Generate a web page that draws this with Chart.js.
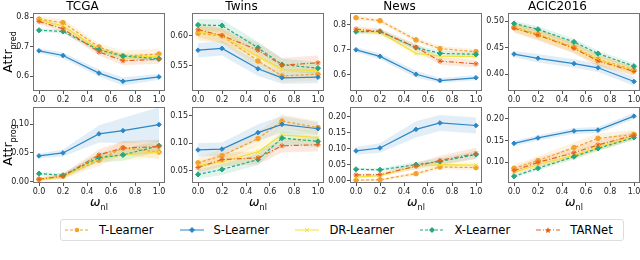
<!DOCTYPE html>
<html>
<head>
<meta charset="utf-8">
<script src="https://cdn.jsdelivr.net/npm/chart.js@4.4.1/dist/chart.umd.min.js"></script>
<style>
  body { margin: 0; width: 640px; height: 260px; overflow: hidden; background: #fff; position: relative; font-family: "DejaVu Sans", sans-serif; }
  canvas.panel { position: absolute; }
  .ylab { position: absolute; transform: translate(-50%, -50%) rotate(-90deg); white-space: nowrap; font-size: 12.5px; color: #000; }
  .ylab sub, .xlab sub { font-size: 8px; }
  .xlab { position: absolute; transform: translate(-50%, -50%); white-space: nowrap; font-size: 12.5px; color: #000; }
  #legend { position: absolute; left: 60px; top: 219px; width: 558px; height: 20px; border: 1px solid #ddd; border-radius: 3px;
            display: flex; align-items: center; padding-left: 4px; box-sizing: content-box; overflow: hidden; }
  .item { display: flex; align-items: center; flex-shrink: 0; white-space: nowrap; margin-right: 26px; font-size: 11.6px; color: #000; }
  .item svg { margin-right: 10px; flex-shrink: 0; }
</style>
</head>
<body>
<div id="legend"></div>
<script>
// x positions of the nonlinearity weight
const xValues = [0.0, 0.2, 0.5, 0.7, 1.0];
const xTickLabels = ['0.0', '0.2', '0.4', '0.6', '0.8', '1.0'];
const methods = ['T-Learner', 'S-Learner', 'DR-Learner', 'X-Learner', 'TARNet'];
const datasetTitles = ['TCGA', 'Twins', 'News', 'ACIC2016'];

// Attr_pred means (rows: T, S, DR, X, TARNet)
const tcgaPred = [
    [0.794, 0.782, 0.699, 0.668, 0.675],
    [0.686, 0.670, 0.610, 0.582, 0.597],
    [0.791, 0.770, 0.691, 0.666, 0.666],
    [0.756, 0.752, 0.689, 0.668, 0.659],
    [0.786, 0.761, 0.682, 0.652, 0.657]
];
const twinsPred = [
    [0.604, 0.600, 0.558, 0.533, 0.536],
    [0.576, 0.579, 0.545, 0.530, 0.531],
    [0.607, 0.600, 0.566, 0.544, 0.542],
    [0.618, 0.617, 0.580, 0.552, 0.546],
    [0.610, 0.6005, 0.576, 0.551, 0.555]
];
const newsPred = [
    [0.828, 0.816, 0.739, 0.704, 0.692],
    [0.699, 0.673, 0.601, 0.576, 0.587],
    [0.776, 0.769, 0.685, 0.674, 0.672],
    [0.772, 0.773, 0.708, 0.685, 0.681],
    [0.782, 0.773, 0.709, 0.654, 0.643]
];
const acicPred = [
    [0.489, 0.476, 0.451, 0.428, 0.408],
    [0.438, 0.430, 0.420, 0.412, 0.386],
    [0.488, 0.475, 0.450, 0.427, 0.406],
    [0.496, 0.485, 0.461, 0.439, 0.415],
    [0.487, 0.474, 0.449, 0.425, 0.405]
];

// Attr_prog means
const tcgaProg = [
    [0.0045, 0.010, 0.0375, 0.059, 0.0517],
    [0.0449, 0.050, 0.083, 0.0886, 0.099],
    [0.005, 0.008, 0.041, 0.0466, 0.052],
    [0.0142, 0.0114, 0.042, 0.0466, 0.0625],
    [0.0045, 0.0097, 0.0466, 0.0585, 0.061]
];
const twinsProg = [
    [0.064, 0.077, 0.108, 0.140, 0.128],
    [0.0875, 0.089, 0.119, 0.134, 0.126],
    [0.059, 0.066, 0.084, 0.115, 0.110],
    [0.043, 0.052, 0.070, 0.109, 0.103],
    [0.0555, 0.070, 0.073, 0.095, 0.097]
];
const newsProg = [
    [0.002, 0.003, 0.022, 0.043, 0.041],
    [0.093, 0.102, 0.160, 0.180, 0.172],
    [0.011, 0.016, 0.046, 0.050, 0.049],
    [0.0357, 0.034, 0.050, 0.060, 0.0816],
    [0.018, 0.019, 0.045, 0.063, 0.085]
];
const acicProg = [
    [0.0865, 0.104, 0.134, 0.155, 0.164],
    [0.1436, 0.156, 0.172, 0.174, 0.206],
    [0.077, 0.095, 0.116, 0.135, 0.159],
    [0.068, 0.0865, 0.113, 0.132, 0.157],
    [0.081, 0.100, 0.122, 0.140, 0.162]
];

// half widths of the shaded bands
const tcgaPredBand = [
    [0.010, 0.012, 0.012, 0.018, 0.018],
    [0.008, 0.010, 0.012, 0.014, 0.010],
    [0.010, 0.010, 0.010, 0.012, 0.012],
    [0.006, 0.006, 0.008, 0.008, 0.008],
    [0.010, 0.012, 0.012, 0.015, 0.015]
];
const twinsPredBand = [
    [0.012, 0.012, 0.012, 0.010, 0.010],
    [0.012, 0.012, 0.012, 0.010, 0.010],
    [0.012, 0.012, 0.012, 0.010, 0.010],
    [0.010, 0.010, 0.010, 0.010, 0.010],
    [0.012, 0.012, 0.012, 0.012, 0.012]
];
const newsPredBand = [
    [0.008, 0.008, 0.010, 0.010, 0.010],
    [0.010, 0.012, 0.014, 0.010, 0.010],
    [0.012, 0.012, 0.012, 0.012, 0.012],
    [0.008, 0.008, 0.010, 0.010, 0.010],
    [0.012, 0.012, 0.015, 0.015, 0.015]
];
const acicPredBand = [
    [0.008, 0.010, 0.010, 0.010, 0.008],
    [0.006, 0.008, 0.008, 0.008, 0.008],
    [0.008, 0.010, 0.010, 0.010, 0.008],
    [0.005, 0.006, 0.006, 0.006, 0.005],
    [0.008, 0.010, 0.010, 0.010, 0.008]
];
const tcgaProgBand = [
    [0.003, 0.004, 0.010, 0.012, 0.012],
    [0.004, 0.006, 0.015, 0.022, 0.030],
    [0.003, 0.004, 0.008, 0.010, 0.010],
    [0.003, 0.004, 0.008, 0.010, 0.010],
    [0.003, 0.004, 0.010, 0.012, 0.012]
];
const twinsProgBand = [
    [0.010, 0.012, 0.012, 0.012, 0.012],
    [0.012, 0.012, 0.015, 0.015, 0.012],
    [0.010, 0.010, 0.012, 0.012, 0.012],
    [0.008, 0.010, 0.010, 0.012, 0.010],
    [0.010, 0.012, 0.012, 0.012, 0.012]
];
const newsProgBand = [
    [0.003, 0.004, 0.006, 0.008, 0.008],
    [0.012, 0.015, 0.025, 0.025, 0.025],
    [0.004, 0.005, 0.008, 0.010, 0.010],
    [0.004, 0.005, 0.008, 0.010, 0.012],
    [0.004, 0.005, 0.010, 0.015, 0.018]
];
const acicProgBand = [
    [0.008, 0.010, 0.012, 0.012, 0.010],
    [0.006, 0.006, 0.007, 0.007, 0.007],
    [0.006, 0.008, 0.010, 0.010, 0.008],
    [0.004, 0.005, 0.006, 0.006, 0.006],
    [0.008, 0.010, 0.012, 0.012, 0.010]
];

// y tick labels and y limits
const tcgaPredTicks = ['0.6', '0.7', '0.8'];
const twinsPredTicks = ['0.55', '0.60'];
const newsPredTicks = ['0.6', '0.7', '0.8'];
const acicPredTicks = ['0.40', '0.45', '0.50'];
const tcgaProgTicks = ['0.00', '0.05', '0.10'];
const twinsProgTicks = ['0.05', '0.10', '0.15'];
const newsProgTicks = ['0.00', '0.05', '0.10', '0.15', '0.20'];
const acicProgTicks = ['0.10', '0.15', '0.20'];
const predLimits = [[0.549, 0.815], [0.508, 0.638], [0.534, 0.847], [0.368, 0.516]];
const progLimits = [[-0.002, 0.1295], [0.0274, 0.1655], [-0.007, 0.2296], [0.0526, 0.227]];

// line styles per method
const styles = [
    { color: '#f2a12e', rgb: '242,161,46', dash: [3, 2], point: 'circle', radius: 2.3 },
    { color: '#2b87c6', rgb: '43,135,198', dash: [], point: 'rectRot', radius: 2.3 },
    { color: '#f3e03a', rgb: '243,224,58', dash: [], point: 'crossRot', radius: 2.5 },
    { color: '#23a882', rgb: '35,168,130', dash: [3, 2], point: 'rectRot', radius: 2.6 },
    { color: '#e4641c', rgb: '228,100,28', dash: [5, 2, 1, 2], point: 'star', radius: 2.6 }
];

const predMeans = [tcgaPred, twinsPred, newsPred, acicPred];
const progMeans = [tcgaProg, twinsProg, newsProg, acicProg];
const predBands = [tcgaPredBand, twinsPredBand, newsPredBand, acicPredBand];
const progBands = [tcgaProgBand, twinsProgBand, newsProgBand, acicProgBand];
const predTicks = [tcgaPredTicks, twinsPredTicks, newsPredTicks, acicPredTicks];
const progTicks = [tcgaProgTicks, twinsProgTicks, newsProgTicks, acicProgTicks];

// plot box placement
const plotLeft = [33, 192, 350, 508];
const plotWidth = 132;
const axisW = 33;
const FONT = 'DejaVu Sans';

// Moldura em volta da área do gráfico
const boxPlugin = {
    id: 'box',
    afterDraw(chart) {
        const { ctx, chartArea: a } = chart;
        ctx.save();
        ctx.strokeStyle = '#737373';
        ctx.lineWidth = 1;
        ctx.strokeRect(Math.round(a.left) + 0.5, Math.round(a.top) + 0.5, Math.round(a.width) - 1, Math.round(a.height) - 1);
        ctx.restore();
    }
};

function buildDatasets(means, bands) {
    const lines = [];
    const fills = [];
    means.forEach((row, i) => {
        const st = styles[i];
        lines.push({
            label: methods[i],
            data: xValues.map((x, k) => ({ x: x, y: row[k] })),
            borderColor: st.color,
            backgroundColor: st.color,
            borderWidth: 1.2,
            borderDash: st.dash,
            pointStyle: st.point,
            pointRadius: st.radius,
            pointBorderWidth: 1,
            fill: false,
            order: 5 - i
        });
    });
    means.forEach((row, i) => {
        const st = styles[i];
        const lowIdx = 5 + fills.length;
        fills.push({
            data: xValues.map((x, k) => ({ x: x, y: row[k] - bands[i][k] })),
            borderWidth: 0,
            pointRadius: 0,
            fill: false,
            order: 10
        });
        fills.push({
            data: xValues.map((x, k) => ({ x: x, y: row[k] + bands[i][k] })),
            borderWidth: 0,
            pointRadius: 0,
            backgroundColor: 'rgba(' + st.rgb + ',0.14)',
            fill: lowIdx,
            order: 10
        });
    });
    return lines.concat(fills);
}

function makePanel(row, col) {
    const canvas = document.createElement('canvas');
    canvas.className = 'panel';
    const top = row === 0 ? 0 : 100;
    const height = row === 0 ? 104 : 96;
    const width = axisW + plotWidth + 8;
    canvas.width = width;
    canvas.height = height;
    canvas.style.left = (plotLeft[col] - axisW) + 'px';
    canvas.style.top = top + 'px';
    document.body.appendChild(canvas);

    const means = row === 0 ? predMeans[col] : progMeans[col];
    const bands = row === 0 ? predBands[col] : progBands[col];
    const ticks = row === 0 ? predTicks[col] : progTicks[col];
    const lim = row === 0 ? predLimits[col] : progLimits[col];

    new Chart(canvas, {
        type: 'line',
        data: { datasets: buildDatasets(means, bands) },
        options: {
            responsive: false,
            animation: false,
            devicePixelRatio: 1,
            layout: { padding: { top: row === 0 ? 0 : 7, right: 8, left: 0, bottom: 0 } },
            plugins: {
                legend: { display: false },
                tooltip: { enabled: false },
                title: {
                    display: row === 0,
                    text: datasetTitles[col],
                    color: '#000',
                    font: { family: FONT, size: 12, weight: 'normal', lineHeight: 1.08 },
                    padding: { top: 0, bottom: 0 }
                }
            },
            scales: {
                x: {
                    type: 'linear',
                    min: -0.05,
                    max: 1.05,
                    afterBuildTicks: s => { s.ticks = xTickLabels.map(t => ({ value: parseFloat(t) })); },
                    afterFit: s => { s.height = 13; },
                    ticks: {
                        autoSkip: false,
                        maxRotation: 0,
                        padding: 1,
                        color: '#222',
                        font: { family: FONT, size: 8 },
                        callback: (v, i) => xTickLabels[i]
                    },
                    grid: { drawOnChartArea: false, drawTicks: true, tickLength: 3, color: '#555' },
                    border: { display: false }
                },
                y: {
                    min: lim[0],
                    max: lim[1],
                    afterBuildTicks: s => { s.ticks = ticks.map(t => ({ value: parseFloat(t) })); },
                    afterFit: s => { s.width = axisW; },
                    ticks: {
                        autoSkip: false,
                        padding: 1,
                        color: '#222',
                        font: { family: FONT, size: 8 },
                        callback: (v, i) => ticks[i]
                    },
                    grid: { drawOnChartArea: false, drawTicks: true, tickLength: 3, color: '#555' },
                    border: { display: false }
                }
            }
        },
        plugins: [boxPlugin]
    });
}

for (let r = 0; r < 2; r++) {
    for (let c = 0; c < 4; c++) makePanel(r, c);
}

// rótulos dos eixos
function addLabel(cls, html, x, y) {
    const d = document.createElement('div');
    d.className = cls;
    d.innerHTML = html;
    d.style.left = x + 'px';
    d.style.top = y + 'px';
    document.body.appendChild(d);
}
addLabel('ylab', 'Attr<sub>pred</sub>', 9, 52);
addLabel('ylab', 'Attr<sub>prog</sub>', 9, 145);
plotLeft.forEach(l => addLabel('xlab', '<i>ω</i><sub>nl</sub>', l + plotWidth / 2, 203));

// legenda
const legendDiv = document.getElementById('legend');
function keySvg(st) {
    const dash = st.dash.length ? 'stroke-dasharray="' + st.dash.join(',') + '"' : '';
    let marker = '';
    if (st.point === 'circle') marker = '<circle cx="12" cy="5" r="2.3" fill="' + st.color + '"/>';
    else if (st.point === 'rectRot') marker = '<polygon points="12,2 15,5 12,8 9,5" fill="' + st.color + '"/>';
    else if (st.point === 'crossRot') marker = '<path d="M10,3 L14,7 M14,3 L10,7" stroke="' + st.color + '" stroke-width="1"/>';
    else marker = '<polygon points="12,2 13,4.3 15,4.5 13.5,6 14,8 12,7 10,8 10.5,6 9,4.5 11,4.3" fill="' + st.color + '"/>';
    return '<svg width="24" height="10"><line x1="0" y1="5" x2="24" y2="5" stroke="' + st.color + '" stroke-width="1.2" ' + dash + '/>' + marker + '</svg>';
}
methods.forEach((m, i) => {
    const it = document.createElement('div');
    it.className = 'item';
    it.innerHTML = keySvg(styles[i]) + '<span>' + m + '</span>';
    legendDiv.appendChild(it);
});
</script>
</body>
</html>
